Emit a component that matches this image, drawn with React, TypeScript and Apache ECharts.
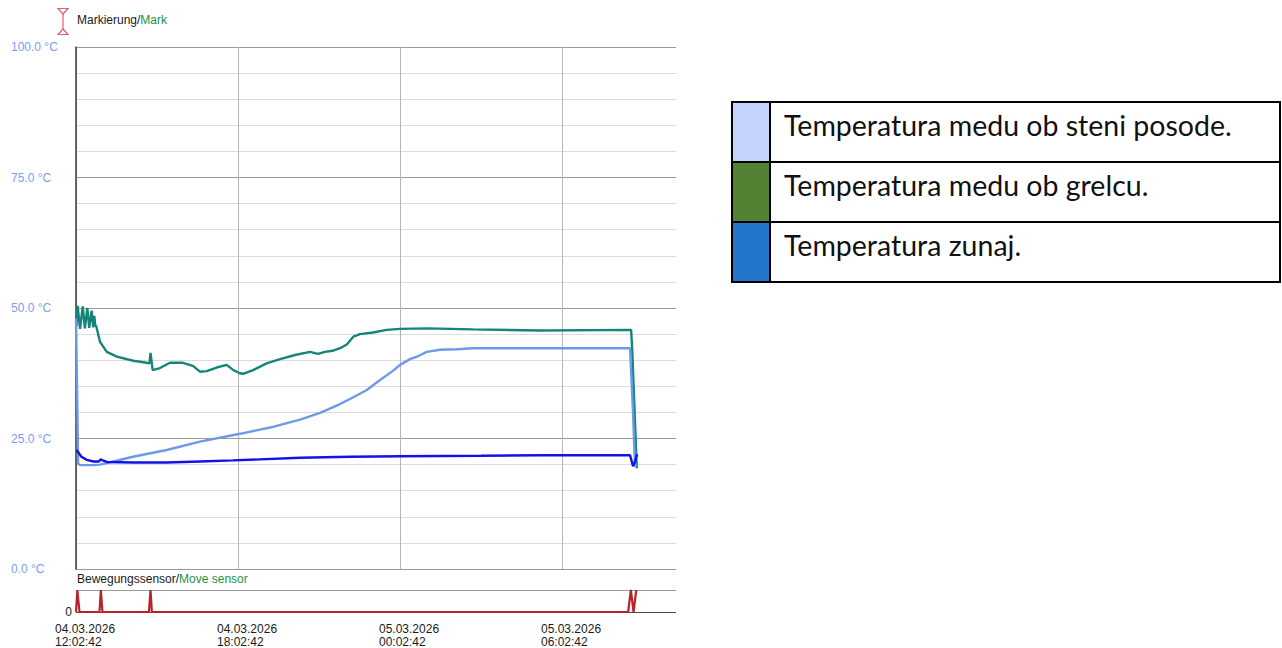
import React, { useEffect, useRef } from "react";
import * as echarts from "echarts";

// Time axis: hours since 04.03.2026 12:02:42
const AXIS_HOURS = 22.222;
const TICK_HOURS = 6;

// Temperature series: [hours, °C]
const heaterTemp: [number, number][] = [
  [0.02, 46.5], [0.06, 50.4], [0.15, 46.0], [0.25, 50.3], [0.33, 46.1], [0.42, 50.0],
  [0.49, 46.2], [0.58, 49.5], [0.64, 46.3], [0.68, 48.5], [0.71, 46.7], [0.75, 46.5],
  [0.89, 43.5], [1.14, 41.6], [1.51, 40.7], [2.12, 39.9], [2.62, 39.5], [2.72, 39.4],
  [2.76, 41.4], [2.84, 38.1], [3.11, 38.5], [3.48, 39.5], [3.96, 39.5], [4.33, 38.9],
  [4.59, 37.8], [4.84, 37.9], [5.21, 38.6], [5.58, 39.1], [5.83, 38.1], [6.07, 37.5],
  [6.19, 37.4], [6.56, 38.1], [7.06, 39.4], [7.56, 40.2], [8.11, 41.0], [8.67, 41.6],
  [8.96, 41.2], [9.22, 41.6], [9.5, 41.8], [9.78, 42.3], [10.03, 43.0], [10.27, 44.5],
  [10.52, 45.0], [11.0, 45.3], [11.51, 45.8], [12.0, 46.0], [13.0, 46.1], [14.7, 45.9],
  [17.2, 45.7], [20.56, 45.8], [20.6, 42.0], [20.77, 19.3],
];

const wallTemp: [number, number][] = [
  [0.0, 48.0], [0.08, 20.2], [0.15, 19.9], [0.63, 19.9], [0.89, 20.0], [1.3, 20.5],
  [2.11, 21.5], [3.36, 22.8], [4.59, 24.4], [6.07, 25.9], [7.19, 27.1], [8.3, 28.6],
  [9.04, 29.9], [9.78, 31.6], [10.27, 32.9], [10.77, 34.3], [11.26, 36.2], [11.75, 38.0],
  [12.0, 39.1], [12.37, 40.2], [12.68, 40.8], [12.99, 41.6], [13.48, 42.0], [14.1, 42.1],
  [14.7, 42.3], [17.19, 42.3], [20.52, 42.3], [20.63, 30.0], [20.7, 20.2], [20.74, 19.6],
];

const outsideTemp: [number, number][] = [
  [0.02, 22.8], [0.2, 21.5], [0.4, 20.9], [0.64, 20.6], [0.85, 20.6], [0.91, 21.0],
  [0.99, 20.8], [1.14, 20.5], [2.11, 20.4], [3.36, 20.4], [4.59, 20.6], [5.81, 20.8],
  [8.3, 21.3], [10.15, 21.5], [12.0, 21.6], [15.0, 21.7], [17.2, 21.8], [20.52, 21.8],
  [20.63, 19.7], [20.7, 20.5], [20.78, 22.0],
];

// Motion sensor state: [hours, 0|1]
const moveSensor: [number, number][] = [
  [0.0, 0], [0.05, 1], [0.13, 0], [0.87, 0], [0.92, 1], [0.98, 0], [2.7, 0], [2.76, 1],
  [2.81, 0], [20.45, 0], [20.55, 1], [20.65, 0], [20.75, 1],
];

const legendNames = [
  "Temperatura medu ob steni posode.",
  "Temperatura medu ob grelcu.",
  "Temperatura zunaj.",
];
const legendColors = ["#c5d4fc", "#548235", "#2475cc"];

const pad = (n: number) => String(n).padStart(2, "0");
const timeLabel = (v: number) => {
  if (Math.abs(v % TICK_HOURS) > 1e-6) return "";
  const total = 12 + v;
  const day = 4 + Math.floor(total / 24);
  return `${pad(day)}.03.2026\n${pad(total % 24)}:02:42`;
};

const SANS = "'Liberation Sans', Arial, sans-serif";

export default function App() {
  const ref = useRef<HTMLDivElement>(null);

  useEffect(() => {
    if (!ref.current) return;
    const chart = echarts.init(ref.current, undefined, { renderer: "svg" });

    const tableLeft = 732;
    const tableTop = 102;
    const rowH = 60;
    const tableW = 548;
    const swatchW = 38;

    const legendGraphics: any[] = [];
    legendNames.forEach((name, i) => {
      legendGraphics.push({
        type: "rect",
        shape: { x: tableLeft, y: tableTop + i * rowH, width: swatchW, height: rowH },
        style: { fill: legendColors[i], stroke: "#000", lineWidth: 2 },
      });
      legendGraphics.push({
        type: "rect",
        shape: { x: tableLeft + swatchW, y: tableTop + i * rowH, width: tableW - swatchW, height: rowH },
        style: { fill: "#fff", stroke: "#000", lineWidth: 2 },
      });
      legendGraphics.push({
        type: "text",
        x: 784,
        y: tableTop + i * rowH + 23,
        style: {
          text: name,
          fill: "#111",
          font: "28.5px Lato, 'Noto Sans', sans-serif",
          verticalAlign: "middle",
        },
      });
    });

    const lineWidth = 2.4;

    chart.setOption({
      animation: false,
      backgroundColor: "#fff",
      textStyle: { fontFamily: SANS },
      grid: [
        { left: 76, top: 47, width: 600, height: 522 },
        { left: 76, top: 590, width: 600, height: 22 },
        { left: 55, top: 590, width: 600, height: 22 },
      ],
      xAxis: [
        {
          type: "value", gridIndex: 0, min: 0, max: AXIS_HOURS, interval: TICK_HOURS,
          axisLine: { show: false }, axisTick: { show: false }, axisLabel: { show: false },
          splitLine: { show: true, showMaxLine: false, lineStyle: { color: "#b5b5b5", width: 1 } },
        },
        {
          type: "value", gridIndex: 1, min: 0, max: AXIS_HOURS, interval: TICK_HOURS,
          axisLine: { show: false }, axisTick: { show: false }, axisLabel: { show: false },
          splitLine: { show: false },
        },
        {
          type: "value", gridIndex: 2, min: 0, max: AXIS_HOURS, interval: TICK_HOURS,
          axisLine: { show: false }, axisTick: { show: false }, splitLine: { show: false },
          axisLabel: {
            show: true, showMaxLabel: false, align: "left", verticalAlign: "top",
            margin: 11, lineHeight: 13, fontSize: 12, color: "#1a1a1a", fontFamily: SANS,
            formatter: timeLabel,
          },
        },
      ],
      yAxis: [
        {
          type: "value", gridIndex: 0, min: 0, max: 100, interval: 5,
          axisLine: { show: true, lineStyle: { color: "#3a3a3a", width: 1.5 } },
          axisTick: { show: false },
          axisLabel: {
            show: true, align: "left", margin: 65, fontSize: 12, color: "#7a9ef0", fontFamily: SANS,
            formatter: (v: number) => (v % 25 === 0 ? `${v.toFixed(1)} °C` : ""),
          },
          splitLine: {
            show: true,
            lineStyle: { color: ["#999999", "#dcdcdc", "#dcdcdc", "#dcdcdc", "#dcdcdc"], width: 1 },
          },
        },
        {
          type: "value", gridIndex: 1, min: 0, max: 1, interval: 1,
          axisLine: { show: false }, axisTick: { show: false },
          axisLabel: {
            show: true, margin: 4, fontSize: 12, color: "#1a1a1a", fontFamily: SANS,
            formatter: (v: number) => (v === 0 ? "0" : ""),
          },
          splitLine: { show: true, lineStyle: { color: ["#4a4a4a", "#999999"], width: 1 } },
        },
        { type: "value", gridIndex: 2, min: 0, max: 1, show: false },
      ],
      series: [
        {
          name: legendNames[1], type: "line", xAxisIndex: 0, yAxisIndex: 0, data: heaterTemp,
          showSymbol: false, lineStyle: { color: "#15857a", width: lineWidth }, itemStyle: { color: "#15857a" },
        },
        {
          name: legendNames[0], type: "line", xAxisIndex: 0, yAxisIndex: 0, data: wallTemp,
          showSymbol: false, lineStyle: { color: "#6d99ea", width: lineWidth }, itemStyle: { color: "#6d99ea" },
        },
        {
          name: legendNames[2], type: "line", xAxisIndex: 0, yAxisIndex: 0, data: outsideTemp,
          showSymbol: false, lineStyle: { color: "#1212e8", width: lineWidth }, itemStyle: { color: "#1212e8" },
        },
        {
          name: "Bewegungssensor", type: "line", xAxisIndex: 1, yAxisIndex: 1, data: moveSensor,
          showSymbol: false, clip: false, lineStyle: { color: "#b8232a", width: 2.2 }, itemStyle: { color: "#b8232a" },
        },
      ],
      graphic: [
        // Marker legend icon
        {
          type: "polygon",
          shape: { points: [[58, 8.5], [68, 8.5], [63, 14]] },
          style: { fill: "#fff", stroke: "#e0606c", lineWidth: 1.2 },
        },
        {
          type: "line",
          shape: { x1: 63, y1: 14, x2: 63, y2: 29 },
          style: { stroke: "#e0606c", lineWidth: 1.2 },
        },
        {
          type: "polygon",
          shape: { points: [[63, 29], [58, 34.5], [68, 34.5]] },
          style: { fill: "#fff", stroke: "#e0606c", lineWidth: 1.2 },
        },
        {
          type: "text", x: 77, y: 20,
          style: {
            text: "{a|Markierung/}{b|Mark}", verticalAlign: "middle",
            rich: {
              a: { fontFamily: SANS, fontSize: 12, fill: "#1a1a1a" },
              b: { fontFamily: SANS, fontSize: 12, fill: "#1f9142" },
            },
          },
        },
        {
          type: "text", x: 77, y: 579,
          style: {
            text: "{a|Bewegungssensor/}{b|Move sensor}", verticalAlign: "middle",
            rich: {
              a: { fontFamily: SANS, fontSize: 12, fill: "#1a1a1a" },
              b: { fontFamily: SANS, fontSize: 12, fill: "#1f9142" },
            },
          },
        },
        ...legendGraphics,
      ],
    });

    return () => chart.dispose();
  }, []);

  return (
    <div
      ref={ref}
      style={{ position: "absolute", left: 0, top: 0, width: 1282, height: 648 }}
    />
  );
}
